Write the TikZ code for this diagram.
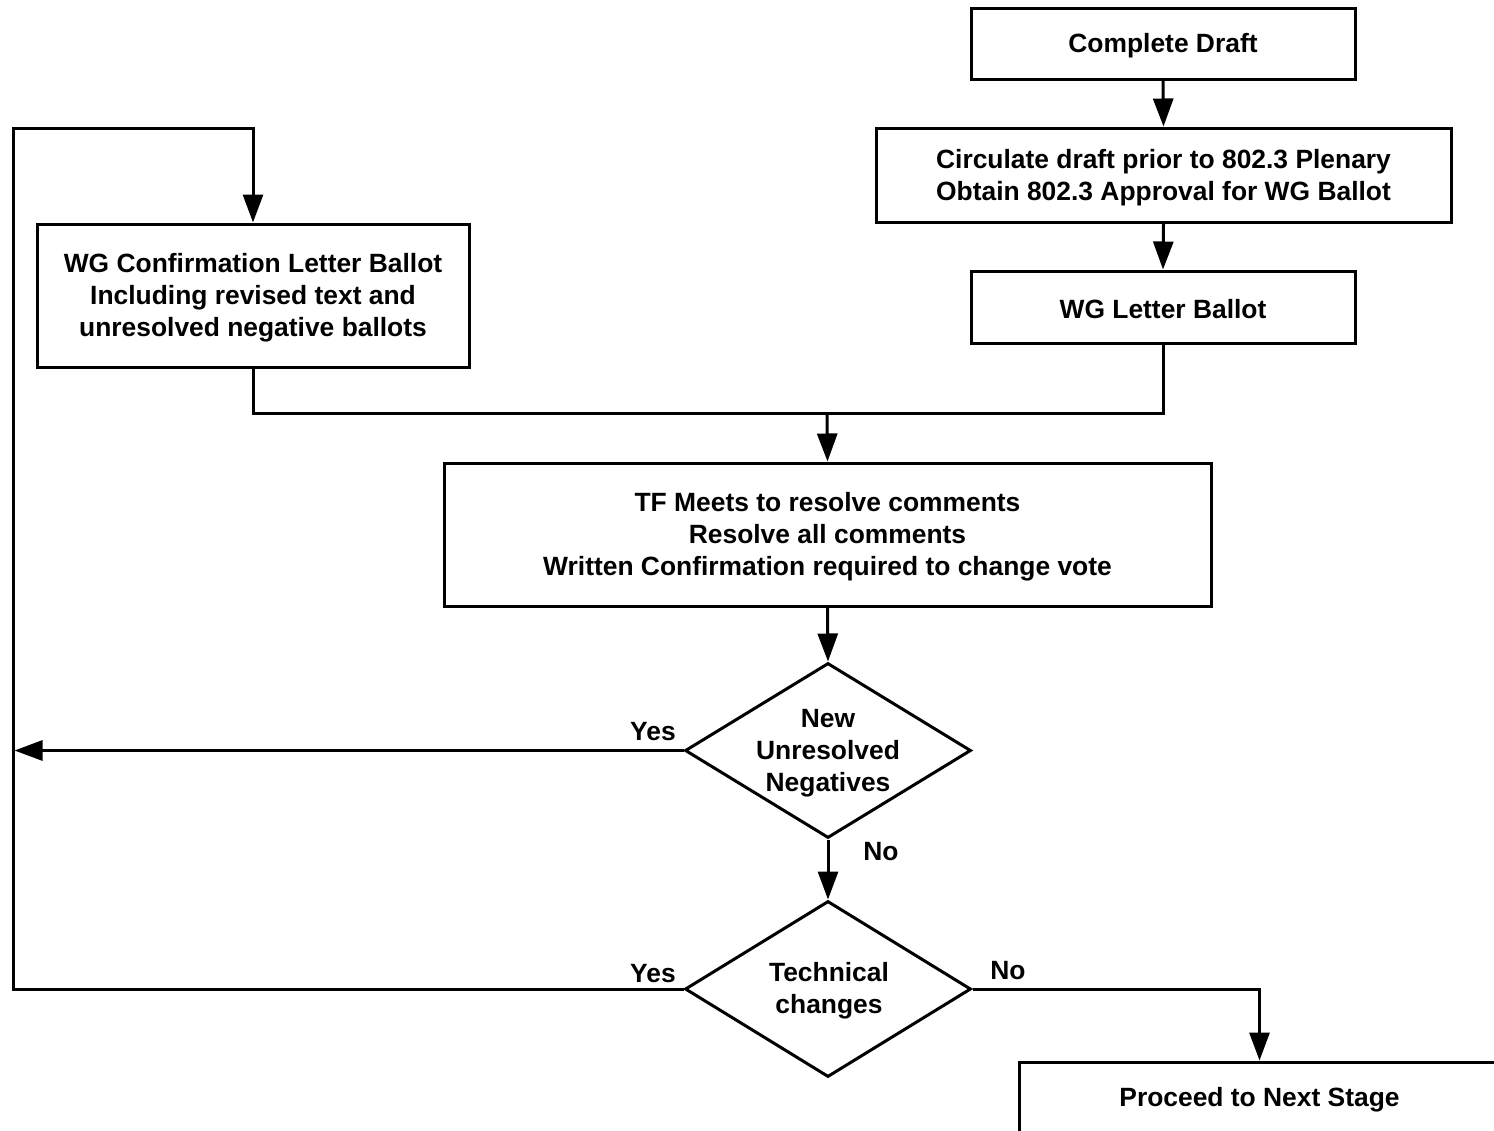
\documentclass[tikz,border=0pt]{standalone}
\usepackage{fontspec}
\setmainfont{Liberation Sans}
\usetikzlibrary{arrows.meta,shapes.geometric}

\tikzset{
  lbl/.style={font=\fontsize{26.4}{32}\selectfont\bfseries, align=center, inner sep=0pt},
  txt/.style={lbl, yshift=-2.5pt},
  stepbox/.style={draw, line width=3pt, inner sep=0pt, lbl},
  decision/.style={draw, diamond, line width=3pt, inner sep=0pt},
  conn/.style={line width=3pt},
  arr/.style={conn, -{Triangle[length=28pt,width=20pt]}}
}

\begin{document}
\begin{tikzpicture}[x=1pt,y=-1pt]
\useasboundingbox (0,0) rectangle (1494,1130);
\clip (0,0) rectangle (1494,1130);

% process boxes
\node[stepbox, minimum width=384pt, minimum height=71pt] (cd) at (1163,43.5) {};
\node[txt] (cdt) at (cd) {Complete Draft};
\node[stepbox, minimum width=575pt, minimum height=94pt] (circ) at (1163.5,175) {};
\node[txt] (circt) at (circ) {Circulate draft prior to 802.3 Plenary\\Obtain 802.3 Approval for WG Ballot};
\node[stepbox, minimum width=384pt, minimum height=72pt] (wgl) at (1163,307) {};
\node[txt] (wglt) at (wgl) {WG Letter Ballot};
\node[stepbox, minimum width=432pt, minimum height=143pt] (wgc) at (253,295.5) {};
\node[txt] (wgct) at (wgc) {WG Confirmation Letter Ballot\\Including revised text and\\unresolved negative ballots};
\node[stepbox, minimum width=767pt, minimum height=143pt] (tf) at (827.5,534.5) {};
\node[txt] (tft) at (tf) {TF Meets to resolve comments\\Resolve all comments\\Written Confirmation required to change vote};

% decisions
\node[decision, minimum width=286pt, minimum height=175pt] (d1) at (828,750.5) {};
\node[txt] (d1t) at (d1) {New\\Unresolved\\Negatives};
\node[decision, minimum width=286pt, minimum height=176pt] (d2) at (828,989) {};
\node[txt] (d2t) at (829,988) {Technical\\changes};

% final box, running past the right and bottom edges
\node[draw, line width=3pt, minimum width=500pt, minimum height=140pt] (ps) at (1269,1132) {};
\node[txt] (pst) at (1259.5,1097) {Proceed to Next Stage};

% junction points
\coordinate (m) at (827,413);
\coordinate (lb) at (13,989);
\coordinate (lt) at (13,128);
\coordinate (la) at (14.5,750.5);

% connectors
\draw[arr] (cd.south) -- (circ.north);
\draw[arr] (circ.south) -- (wgl.north);
\draw[conn] (wgl.south) |- (m);
\draw[conn] (wgc.south) |- (m);
\draw[arr] (m) -- (tf.north);
\draw[arr] (tf.south) -- (d1.north);
\draw[arr] (d1.west) -- (la);
\draw[arr] (d1.south) -- (d2.north);
\draw[arr, line join=miter] (d2.west) -- (lb) -- (lt) -| (wgc.north);
\draw[arr] (d2.east) -| (pst |- ps.north);

% branch labels
\node[txt] (y1) at (653,729) {Yes};
\node[txt] (n1) at (881,849) {No};
\node[txt] (y2) at (653,971) {Yes};
\node[txt] (n2) at (1008,968) {No};
\end{tikzpicture}
\end{document}
